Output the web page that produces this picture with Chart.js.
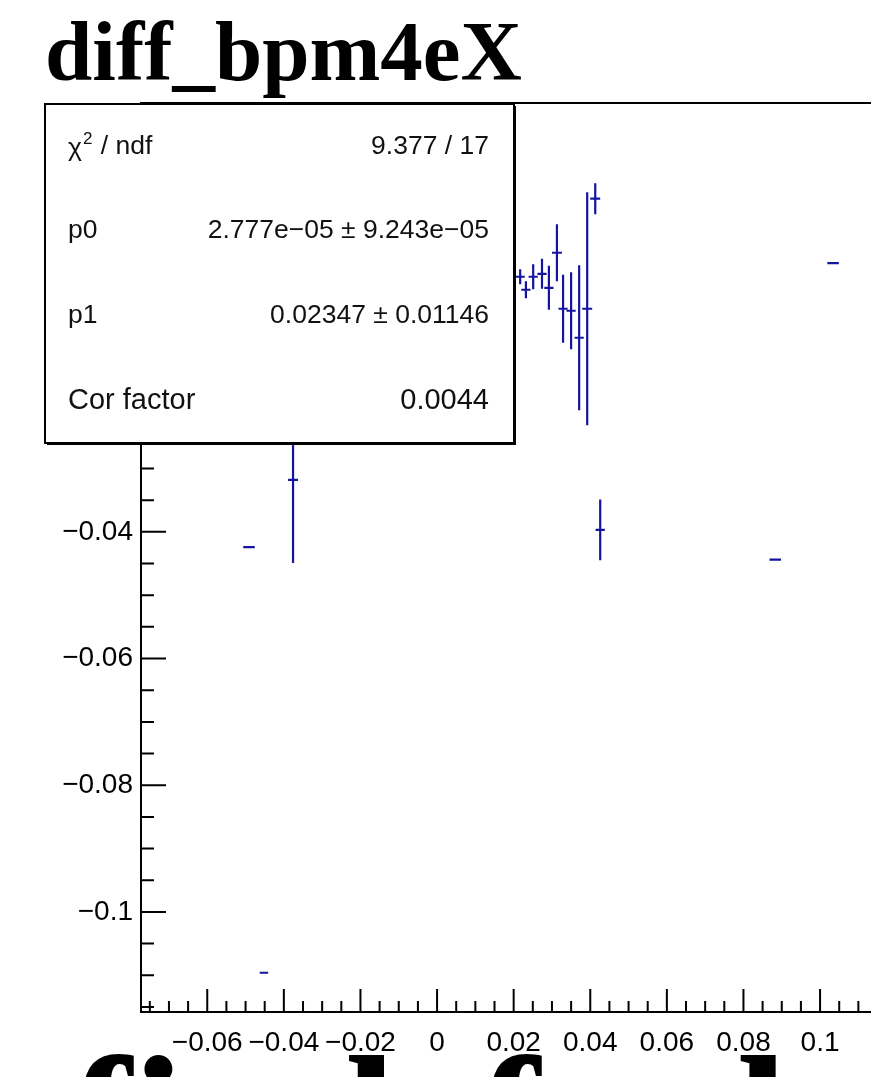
<!DOCTYPE html>
<html>
<head>
<meta charset="utf-8">
<title>diff_bpm4eX</title>
<script src="https://cdn.jsdelivr.net/npm/chart.js@4.4.0/dist/chart.umd.min.js"></script>
<style>
  html, body { margin: 0; padding: 0; background: #fff; overflow: hidden; }
  #wrap { width: 871px; height: 1077px; overflow: hidden; position: relative; }
  #plot { position: absolute; left: 0; top: 0; }
</style>
</head>
<body>
<div id="wrap"><canvas id="plot" width="940" height="1200"></canvas></div>
<script>
// graph points (x, y) with errors
const xValues = [-0.0491, -0.0376, -0.0452, 0.0217, 0.0232, 0.0251, 0.0274, 0.0292, 0.0313, 0.0329, 0.0350, 0.0371, 0.0392, 0.0413, 0.0426, 0.0883, 0.1034];
const yValues = [-0.0424, -0.0318, -0.1096, 0.00027, -0.00178, 0.00027, 0.00074, -0.00147, 0.00406, -0.00478, -0.0051, -0.00936, -0.00478, 0.01259, -0.0397, -0.0444, 0.00243];
const xErrors = [0.0015, 0.0013, 0.0011, 0.0012, 0.0012, 0.0012, 0.0012, 0.0012, 0.0013, 0.0012, 0.0012, 0.0012, 0.0013, 0.0013, 0.0012, 0.0015, 0.0015];
const yErrors = [0.0001, 0.0131, 0.0001, 0.0012, 0.00134, 0.00197, 0.00237, 0.00347, 0.0045, 0.00537, 0.00608, 0.01145, 0.0184, 0.00245, 0.0048, 0.0001, 0.0001];

// axis ranges and tick step
const xRange = [-0.0773, 0.118];
const yRange = [-0.1158, 0.0277];
const majorStep = 0.02;
const minorStep = 0.005;

// fit statistics box
const statLabels = ['/ ndf', 'p0', 'p1', 'Cor factor'];
const statValues = ['9.377 / 17', '2.777e\u221205 \u00b1 9.243e\u221205', '0.02347 \u00b1 0.01146', '0.0044'];

const titleText = 'diff_bpm4eX';
const lowerTitle = 'fit default';
const markColor = '#1414a0';

function fmtTick(v) {
    const s = String(Number(v.toFixed(3)));
    return s.replace('-', '\u2212');
}

const rootStyle = {
    id: 'rootStyle',
    afterDatasetsDraw(chart) {
        const ctx = chart.ctx;
        const xs = chart.scales.x;
        const ys = chart.scales.y;
        const a = chart.chartArea;

        // error bars
        ctx.save();
        ctx.beginPath();
        ctx.rect(a.left, a.top, a.right - a.left, a.bottom - a.top);
        ctx.clip();
        ctx.strokeStyle = markColor;
        ctx.lineWidth = 2.2;
        xValues.forEach((xv, i) => {
            const px = xs.getPixelForValue(xv);
            const py = ys.getPixelForValue(yValues[i]);
            ctx.beginPath();
            ctx.moveTo(xs.getPixelForValue(xv - xErrors[i]), py);
            ctx.lineTo(xs.getPixelForValue(xv + xErrors[i]), py);
            ctx.moveTo(px, ys.getPixelForValue(yValues[i] + yErrors[i]));
            ctx.lineTo(px, ys.getPixelForValue(yValues[i] - yErrors[i]));
            ctx.stroke();
        });
        ctx.restore();

        // frame and inward ticks
        ctx.save();
        ctx.strokeStyle = '#000';
        ctx.lineWidth = 2;
        ctx.strokeRect(a.left, a.top, a.right - a.left, a.bottom - a.top);
        ctx.beginPath();
        for (let k = Math.ceil(ys.min / minorStep); k * minorStep <= ys.max; k++) {
            const py = ys.getPixelForValue(k * minorStep);
            const len = k % 4 === 0 ? 25 : 13;
            ctx.moveTo(a.left, py);
            ctx.lineTo(a.left + len, py);
        }
        for (let k = Math.ceil(xs.min / minorStep); k * minorStep <= xs.max; k++) {
            const px = xs.getPixelForValue(k * minorStep);
            const len = k % 4 === 0 ? 23 : 11;
            ctx.moveTo(px, a.bottom);
            ctx.lineTo(px, a.bottom - len);
        }
        ctx.stroke();
        ctx.restore();
    },
    afterDraw(chart) {
        const ctx = chart.ctx;
        ctx.save();

        // stats box
        const bx = 45, by = 104, bw = 469, bh = 339;
        ctx.fillStyle = '#fff';
        ctx.fillRect(bx, by, bw, bh);
        ctx.strokeStyle = '#000';
        ctx.lineWidth = 2;
        ctx.strokeRect(bx, by, bw, bh);
        ctx.fillStyle = '#000';
        ctx.fillRect(bx + bw, by + 2, 2, bh);
        ctx.fillRect(bx + 2, by + bh, bw, 2);

        ctx.fillStyle = '#111';
        ctx.textBaseline = 'middle';
        const rowH = bh / 4;
        statLabels.forEach((lab, i) => {
            const cy = by + rowH * (i + 0.5);
            const size = i === 3 ? 29 : 26.5;
            ctx.font = size + 'px "Liberation Sans", Arial, sans-serif';
            ctx.textAlign = 'left';
            if (i === 0) {
                ctx.fillText('\u03c7', 68, cy + 2);
                const w = ctx.measureText('\u03c7').width;
                ctx.font = '17px "Liberation Sans", Arial, sans-serif';
                ctx.fillText('2', 68 + w + 1, cy - 7);
                const w2 = ctx.measureText('2').width;
                ctx.font = size + 'px "Liberation Sans", Arial, sans-serif';
                ctx.fillText(' ' + lab, 68 + w + w2 + 2, cy);
            } else {
                ctx.fillText(lab, 68, cy);
            }
            ctx.textAlign = 'right';
            ctx.fillText(statValues[i], 489, cy);
        });

        // pad titles
        ctx.fillStyle = '#000';
        ctx.textAlign = 'left';
        ctx.textBaseline = 'alphabetic';
        ctx.font = 'bold 85px "Liberation Serif", "Times New Roman", serif';
        ctx.fillText(titleText, 45, 80);
        ctx.font = 'bold 186px "Liberation Serif", "Times New Roman", serif';
        ctx.fillText(lowerTitle, 70, 1185);
        ctx.restore();
    }
};

const tickFont = { family: '"Liberation Sans", Arial, sans-serif', size: 28 };

new Chart(document.getElementById('plot').getContext('2d'), {
    type: 'scatter',
    data: {
        datasets: [{
            label: titleText,
            data: xValues.map((x, i) => ({ x: x, y: yValues[i] })),
            pointRadius: 0,
            pointHoverRadius: 0,
            showLine: false,
            borderColor: markColor,
            backgroundColor: markColor
        }]
    },
    options: {
        responsive: false,
        animation: false,
        events: [],
        layout: { padding: { top: 103, left: 45, right: 51, bottom: 0 } },
        plugins: {
            legend: { display: false },
            title: { display: false },
            tooltip: { enabled: false }
        },
        scales: {
            x: {
                type: 'linear',
                min: xRange[0],
                max: xRange[1],
                grid: { display: false, drawTicks: false },
                border: { display: false },
                ticks: {
                    stepSize: majorStep,
                    includeBounds: false,
                    autoSkip: false,
                    maxRotation: 0,
                    padding: 14,
                    color: '#000',
                    font: tickFont,
                    callback: v => fmtTick(v)
                },
                afterFit: s => { s.height = 1200 - 1012; }
            },
            y: {
                type: 'linear',
                min: yRange[0],
                max: yRange[1],
                grid: { display: false, drawTicks: false },
                border: { display: false },
                ticks: {
                    stepSize: majorStep,
                    includeBounds: false,
                    autoSkip: false,
                    padding: 8,
                    color: '#000',
                    font: tickFont,
                    callback: v => fmtTick(v)
                },
                afterFit: s => { s.width = 96; }
            }
        }
    },
    plugins: [rootStyle]
});
</script>
</body>
</html>
